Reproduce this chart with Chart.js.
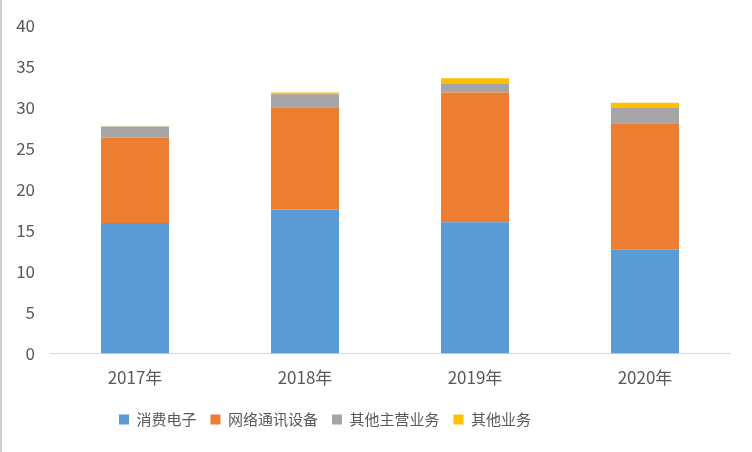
<!DOCTYPE html>
<html><head><meta charset="utf-8">
<script src="https://cdn.jsdelivr.net/npm/chart.js@4.4.1/dist/chart.umd.min.js"></script>
<style>
html,body{margin:0;padding:0;background:#fff;}
#wrap{position:relative;width:752px;height:452px;box-sizing:border-box;border-left:2px solid #d0d0d0;}
canvas{display:block;}
</style></head>
<body>
<div id="wrap"><canvas id="c" width="750" height="452"></canvas></div>
<script>
const categories = ['2017年','2018年','2019年','2020年'];
const consumerElectronics = [15.9, 17.55, 16.0, 12.65];
const networkEquipment = [10.4, 12.45, 15.8, 15.4];
const otherMainBusiness = [1.35, 1.6, 1.05, 1.85];
const otherBusiness = [0.05, 0.2, 0.7, 0.65];
const yTicks = {min: 0, max: 40, step: 5};

const FONT = '"Noto Sans CJK SC", "Microsoft YaHei", sans-serif';
const legendShift = {
  id: 'legendShift',
  afterLayout(chart) {
    const lg = chart.legend;
    if (lg) { lg.left = 103; lg.top -= 4; lg.bottom -= 4; }
  }
};

new Chart(document.getElementById('c'), {
  type: 'bar',
  data: {
    labels: categories,
    datasets: [
      {label: '消费电子', data: consumerElectronics, backgroundColor: '#5B9BD5'},
      {label: '网络通讯设备', data: networkEquipment, backgroundColor: '#ED7D31'},
      {label: '其他主营业务', data: otherMainBusiness, backgroundColor: '#A5A5A5'},
      {label: '其他业务', data: otherBusiness, backgroundColor: '#FFC000'}
    ]
  },
  plugins: [legendShift],
  options: {
    responsive: false,
    animation: false,
    layout: {padding: {top: 15, right: 22, bottom: 11, left: 0}},
    datasets: {bar: {categoryPercentage: 1.0, barPercentage: 0.4}},
    plugins: {
      tooltip: {enabled: false},
      legend: {
        position: 'bottom', align: 'start',
        labels: {boxWidth: 10, boxHeight: 10, padding: 14, color: '#595959',
          font: {family: FONT, size: 15}}
      }
    },
    scales: {
      x: {
        stacked: true,
        grid: {display: false, drawTicks: false},
        border: {display: true, color: '#D9D9D9', width: 1},
        ticks: {color: '#595959', padding: 14, font: {family: FONT, size: 17}}
      },
      y: {
        stacked: true,
        min: yTicks.min, max: yTicks.max,
        afterFit(s) { s.width = 48; },
        grid: {display: false, drawTicks: false},
        border: {display: false},
        ticks: {stepSize: yTicks.step, color: '#595959', padding: 15, font: {family: FONT, size: 17}}
      }
    }
  }
});
</script>
</body></html>
